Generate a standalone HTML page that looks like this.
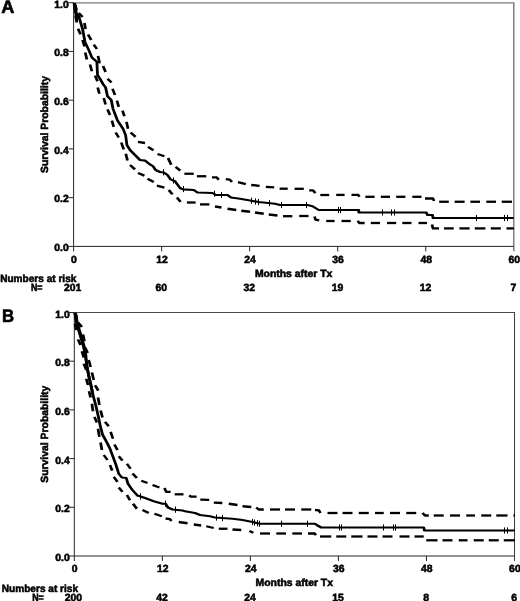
<!DOCTYPE html>
<html><head><meta charset="utf-8"><title>Survival</title>
<style>
html,body{margin:0;padding:0;background:#fff;}
body{width:520px;height:601px;overflow:hidden;}
svg{display:block;}
.t{font-family:"Liberation Sans",Arial,Helvetica,sans-serif;font-weight:bold;font-size:10.4px;fill:#000;stroke:#000;stroke-width:0.55;text-rendering:geometricPrecision;}
.L{font-family:"Liberation Sans",Arial,Helvetica,sans-serif;font-weight:bold;font-size:18.2px;fill:#000;stroke:#000;stroke-width:0.65;stroke-linejoin:round;text-rendering:geometricPrecision;}
</style></head><body>
<svg width="520" height="601" viewBox="0 0 520 601">
<rect width="520" height="601" fill="#fff"/>
<line x1="73.6" y1="2.9000000000000004" x2="514.4749999999999" y2="2.9000000000000004" stroke="#7a7a7a" stroke-width="1.35"/>
<line x1="513.8" y1="2.9000000000000004" x2="513.8" y2="251.3" stroke="#707070" stroke-width="1.35"/>
<line x1="73.6" y1="2.2" x2="73.6" y2="251.4" stroke="#262626" stroke-width="1"/>
<line x1="68.6" y1="246.4" x2="513.8" y2="246.4" stroke="#262626" stroke-width="1"/>
<line x1="68.6" y1="2.70" x2="73.6" y2="2.70" stroke="#262626" stroke-width="1"/>
<text x="68.70" y="7.60" text-anchor="end" class="t">1.0</text>
<line x1="68.6" y1="51.44" x2="73.6" y2="51.44" stroke="#262626" stroke-width="1"/>
<text x="68.70" y="56.14" text-anchor="end" class="t">0.8</text>
<line x1="68.6" y1="100.18" x2="73.6" y2="100.18" stroke="#262626" stroke-width="1"/>
<text x="68.70" y="104.88" text-anchor="end" class="t">0.6</text>
<line x1="68.6" y1="148.92" x2="73.6" y2="148.92" stroke="#262626" stroke-width="1"/>
<text x="68.70" y="153.62" text-anchor="end" class="t">0.4</text>
<line x1="68.6" y1="197.66" x2="73.6" y2="197.66" stroke="#262626" stroke-width="1"/>
<text x="68.70" y="202.36" text-anchor="end" class="t">0.2</text>
<text x="68.70" y="251.10" text-anchor="end" class="t">0.0</text>
<text x="74.00" y="262.70" text-anchor="middle" class="t">0</text>
<text x="72.70" y="291.20" text-anchor="middle" class="t">201</text>
<line x1="161.64" y1="246.4" x2="161.64" y2="251.4" stroke="#262626" stroke-width="1"/>
<text x="162.04" y="262.70" text-anchor="middle" class="t">12</text>
<text x="161.34" y="291.20" text-anchor="middle" class="t">60</text>
<line x1="249.67999999999998" y1="246.4" x2="249.67999999999998" y2="251.4" stroke="#262626" stroke-width="1"/>
<text x="250.08" y="262.70" text-anchor="middle" class="t">24</text>
<text x="249.38" y="291.20" text-anchor="middle" class="t">32</text>
<line x1="337.72" y1="246.4" x2="337.72" y2="251.4" stroke="#262626" stroke-width="1"/>
<text x="338.12" y="262.70" text-anchor="middle" class="t">36</text>
<text x="337.42" y="291.20" text-anchor="middle" class="t">19</text>
<line x1="425.76" y1="246.4" x2="425.76" y2="251.4" stroke="#262626" stroke-width="1"/>
<text x="426.16" y="262.70" text-anchor="middle" class="t">48</text>
<text x="425.46" y="291.20" text-anchor="middle" class="t">12</text>
<text x="514.20" y="262.70" text-anchor="middle" class="t">60</text>
<text x="513.50" y="291.20" text-anchor="middle" class="t">7</text>
<text x="293.60" y="276.70" text-anchor="middle" class="t">Months after Tx</text>
<text x="0.2" y="281.90" class="t" textLength="76.2" lengthAdjust="spacingAndGlyphs">Numbers at risk</text>
<text x="30.9" y="291.20" class="t" textLength="11.6" lengthAdjust="spacingAndGlyphs">N=</text>
<text transform="translate(48.3,124.55) rotate(-90)" text-anchor="middle" class="t">Survival Probability</text>
<text transform="translate(1.3,12.90) scale(1.0,1)" class="L">A</text>
<g fill="none" stroke="#000" stroke-width="2.3" stroke-linejoin="round" transform="scale(1.18,1)"><polyline points="63.81,5 64.92,10"/><polyline points="66.74,13 69.92,17"/><polyline points="71.53,23 72.54,29"/><polyline points="74.58,34.4 77.33,40"/><polyline points="79.45,44.7 82.12,49"/><polyline points="83.05,56 84.24,62"/><polyline points="87.29,66 89.49,72"/><polyline points="91.10,78.75 94.49,82.5"/><polyline points="95.34,88.75 97.46,95"/><polyline points="99.07,100.6 100.64,106.9"/><polyline points="103.81,110.6 105.42,116.25"/><polyline points="107.20,121.9 108.47,128.75"/><polyline points="110.68,132.5 114.92,136.9"/><polyline points="116.95,141.9 122.88,143"/><polyline points="125.42,146.9 130.08,150.3"/><polyline points="133.47,154 139.32,156.25"/><polyline points="142.37,158 145.13,164.7"/><polyline points="148.81,166.9 152.80,170.6"/><polyline points="156.27,173.75 164.19,173.75"/><polyline points="166.86,176.25 174.79,176.25"/><polyline points="179.66,177.3 183.47,177.3 185.42,179.8"/><polyline points="191.36,179.2 194.58,179.6 196.61,182"/><polyline points="201.69,182.2 208.31,184.2"/><polyline points="212.88,185 220.00,185.8"/><polyline points="225.25,186.8 232.37,187.3"/><polyline points="236.95,188.7 243.81,188.7"/><polyline points="249.66,188.8 257.46,188.8"/><polyline points="262.03,190.3 265.25,190.3 267.29,193.2"/><polyline points="271.44,195 278.98,195"/><polyline points="284.92,194.9 292.03,194.9"/><polyline points="297.88,194.9 303.64,194.9 304.58,196.8"/><polyline points="309.66,196.8 317.46,196.8"/><polyline points="322.71,196.8 330.51,196.8"/><polyline points="335.76,196.8 343.56,196.8"/><polyline points="349.41,196.8 357.20,196.8"/><polyline points="360.17,198.5 366.95,198.5 367.80,201"/><polyline points="372.20,201.75 380.34,201.75"/><polyline points="385.25,201.75 393.73,201.75"/><polyline points="398.64,201.75 406.78,201.75"/><polyline points="412.12,201.75 420.34,201.75"/><polyline points="425.17,201.75 433.90,201.75"/></g>
<g fill="none" stroke="#000" stroke-width="2.3" stroke-linejoin="round" transform="scale(1.18,1)"><polyline points="64.07,16 65.17,22.5"/><polyline points="66.10,28.75 68.31,34.4"/><polyline points="69.92,40 71.69,46.5"/><polyline points="72.20,52.5 73.64,59.4"/><polyline points="76.27,64.4 77.88,71.25"/><polyline points="80.51,75.6 82.63,81.25"/><polyline points="82.80,87.5 84.24,93.75"/><polyline points="87.92,98 89.49,104.4"/><polyline points="91.10,109.4 93.22,115"/><polyline points="94.83,120.6 96.40,126.9"/><polyline points="97.97,132.5 100.64,137.5"/><polyline points="102.75,142.5 104.87,149.4"/><polyline points="106.61,153.75 108.05,160.6"/><polyline points="110.17,165 114.41,169.4"/><polyline points="116.95,173 122.37,175.6"/><polyline points="125.00,178.75 130.30,181.9"/><polyline points="132.97,185.6 139.32,187.7"/><polyline points="143.01,190 146.19,194.4"/><polyline points="149.92,197.5 153.05,201.9"/><polyline points="158.39,202.5 165.76,202.5"/><polyline points="169.49,204.4 177.46,204.4"/><polyline points="182.20,206.5 187.71,207.5"/><polyline points="192.80,208.75 200.21,210"/><polyline points="204.45,210.75 211.86,211.75"/><polyline points="216.10,212.5 223.52,213.75"/><polyline points="227.75,214.5 235.17,215.5"/><polyline points="239.83,216.2 247.71,216.2"/><polyline points="253.56,216 261.44,216"/><polyline points="266.61,216.5 267.29,219.6 270.51,220.4"/><polyline points="276.44,221 283.56,221"/><polyline points="289.41,221 297.29,221"/><polyline points="303.14,220.8 304.41,223 308.98,223"/><polyline points="314.24,223 322.03,223"/><polyline points="327.97,223 335.76,223"/><polyline points="340.93,223 348.73,223"/><polyline points="354.66,223 361.86,223"/><polyline points="366.10,224.5 366.95,228.4 372.03,228.4"/><polyline points="376.27,228.4 384.49,228.4"/><polyline points="389.32,228.4 397.97,228.4"/><polyline points="402.37,228.4 411.36,228.4"/><polyline points="415.93,228.4 424.41,228.4"/><polyline points="429.24,228.4 435.38,228.4"/></g>
<polyline fill="none" stroke="#000" stroke-width="2.15" stroke-linejoin="round" transform="scale(1.3,1)" points="56.92,3 58.15,12.5 60.54,16 63.46,28.7 65.38,42 68.27,50 70.69,57.5 74.54,61.9 75.00,75 76.92,78.75 79.23,84 81.23,87.5 82.69,96.25 85.58,100 86.92,108.75 90.38,120.5 94.62,128.75 96.62,135 97.62,145 100.00,150 105.38,157 107.69,160 111.54,160.6 115.38,164.4 117.69,166.25 119.69,170 123.08,172 125.96,172.5 128.85,175 131.23,179.4 134.62,181.25 138.46,188 140.77,189.4 149.04,190 151.92,192.5 163.46,193 166.15,195 175.00,195 177.69,197.5 184.62,198.75 192.31,200.5 199.04,202 211.54,203.75 215.38,205 236.54,205 240.38,206.25 245.19,210 275.96,210 275.96,212.5 327.88,212.5 328.85,215 332.69,215 333.08,218 395.19,218"/>
<g stroke="#000" stroke-width="1"><line x1="163.50" y1="169.20" x2="163.50" y2="175.40"/><line x1="173.50" y1="177.40" x2="173.50" y2="183.60"/><line x1="183.50" y1="185.90" x2="183.50" y2="192.10"/><line x1="214.50" y1="190.60" x2="214.50" y2="196.80"/><line x1="221.50" y1="191.90" x2="221.50" y2="198.10"/><line x1="251.50" y1="197.60" x2="251.50" y2="203.80"/><line x1="255.50" y1="198.40" x2="255.50" y2="204.60"/><line x1="258.50" y1="198.90" x2="258.50" y2="205.10"/><line x1="269.50" y1="200.10" x2="269.50" y2="206.30"/><line x1="281.50" y1="201.90" x2="281.50" y2="208.10"/><line x1="306.50" y1="201.90" x2="306.50" y2="208.10"/><line x1="338.50" y1="206.90" x2="338.50" y2="213.10"/><line x1="340.50" y1="206.90" x2="340.50" y2="213.10"/><line x1="382.50" y1="209.40" x2="382.50" y2="215.60"/><line x1="391.50" y1="209.40" x2="391.50" y2="215.60"/><line x1="394.50" y1="209.40" x2="394.50" y2="215.60"/><line x1="476.50" y1="214.90" x2="476.50" y2="221.10"/><line x1="504.50" y1="214.90" x2="504.50" y2="221.10"/><line x1="507.50" y1="214.90" x2="507.50" y2="221.10"/></g>
<line x1="96.5" y1="62.1" x2="100.6" y2="62.4" stroke="#000" stroke-width="2"/>
<polyline fill="none" stroke="#000" stroke-width="3.2" stroke-linejoin="round" stroke-linecap="round" points="74.8,4.5 76,12.5 76.6,20"/>
<line x1="74.3" y1="312.5" x2="515.0" y2="312.5" stroke="#4a4a4a" stroke-width="1.0"/>
<line x1="514.5" y1="312.5" x2="514.5" y2="560.9" stroke="#3a3a3a" stroke-width="1.0"/>
<line x1="74.3" y1="312.0" x2="74.3" y2="561.0" stroke="#262626" stroke-width="1"/>
<line x1="69.3" y1="556.0" x2="514.5" y2="556.0" stroke="#262626" stroke-width="1"/>
<line x1="69.3" y1="312.50" x2="74.3" y2="312.50" stroke="#262626" stroke-width="1"/>
<text x="69.80" y="317.80" text-anchor="end" class="t">1.0</text>
<line x1="69.3" y1="361.20" x2="74.3" y2="361.20" stroke="#262626" stroke-width="1"/>
<text x="69.80" y="366.30" text-anchor="end" class="t">0.8</text>
<line x1="69.3" y1="409.90" x2="74.3" y2="409.90" stroke="#262626" stroke-width="1"/>
<text x="69.80" y="415.00" text-anchor="end" class="t">0.6</text>
<line x1="69.3" y1="458.60" x2="74.3" y2="458.60" stroke="#262626" stroke-width="1"/>
<text x="69.80" y="463.70" text-anchor="end" class="t">0.4</text>
<line x1="69.3" y1="507.30" x2="74.3" y2="507.30" stroke="#262626" stroke-width="1"/>
<text x="69.80" y="512.40" text-anchor="end" class="t">0.2</text>
<text x="69.80" y="561.10" text-anchor="end" class="t">0.0</text>
<text x="74.70" y="572.30" text-anchor="middle" class="t">0</text>
<text x="73.40" y="600.80" text-anchor="middle" class="t">200</text>
<line x1="162.33999999999997" y1="556.0" x2="162.33999999999997" y2="561.0" stroke="#262626" stroke-width="1"/>
<text x="162.74" y="572.30" text-anchor="middle" class="t">12</text>
<text x="162.04" y="600.80" text-anchor="middle" class="t">42</text>
<line x1="250.38" y1="556.0" x2="250.38" y2="561.0" stroke="#262626" stroke-width="1"/>
<text x="250.78" y="572.30" text-anchor="middle" class="t">24</text>
<text x="250.08" y="600.80" text-anchor="middle" class="t">24</text>
<line x1="338.42" y1="556.0" x2="338.42" y2="561.0" stroke="#262626" stroke-width="1"/>
<text x="338.82" y="572.30" text-anchor="middle" class="t">36</text>
<text x="338.12" y="600.80" text-anchor="middle" class="t">15</text>
<line x1="426.46" y1="556.0" x2="426.46" y2="561.0" stroke="#262626" stroke-width="1"/>
<text x="426.86" y="572.30" text-anchor="middle" class="t">48</text>
<text x="426.16" y="600.80" text-anchor="middle" class="t">8</text>
<text x="514.90" y="572.30" text-anchor="middle" class="t">60</text>
<text x="514.20" y="600.80" text-anchor="middle" class="t">6</text>
<text x="294.30" y="586.30" text-anchor="middle" class="t">Months after Tx</text>
<text x="1.8" y="591.50" class="t" textLength="76.2" lengthAdjust="spacingAndGlyphs">Numbers at risk</text>
<text x="32.2" y="600.80" class="t" textLength="11.6" lengthAdjust="spacingAndGlyphs">N=</text>
<text transform="translate(48.3,434.25) rotate(-90)" text-anchor="middle" class="t">Survival Probability</text>
<text transform="translate(1.95,321.90) scale(0.92,1)" class="L">B</text>
<g fill="none" stroke="#000" stroke-width="2.3" stroke-linejoin="round" transform="scale(1.18,1)"><polyline points="63.98,314 65.25,319"/><polyline points="66.10,322.5 69.41,327"/><polyline points="70.34,334.4 71.53,341.25"/><polyline points="72.03,347.5 74.32,353"/><polyline points="75.21,360 76.78,366.9"/><polyline points="77.88,372.5 79.45,380"/><polyline points="80.51,385.3 83.31,390.6"/><polyline points="83.05,397.5 84.24,405"/><polyline points="85.25,410.6 86.86,417.5"/><polyline points="88.98,421.9 92.16,426.25"/><polyline points="93.73,431.9 95.76,438.75"/><polyline points="96.95,444.4 99.58,450"/><polyline points="100.64,456.25 103.81,460.6"/><polyline points="107.54,463.75 110.68,468.75"/><polyline points="112.29,473.5 116.02,478"/><polyline points="119.70,480.8 125.00,483"/><polyline points="129.24,485 135.08,487.5"/><polyline points="139.32,488 140.89,491.9 144.58,491.9"/><polyline points="148.05,494.3 155.51,494.3"/><polyline points="160.34,495.4 161.69,496.6 166.61,496.6"/><polyline points="169.75,499.7 177.29,499.9"/><polyline points="181.19,502.6 188.39,503"/><polyline points="193.86,503.75 201.27,505"/><polyline points="205.51,506.25 212.92,507"/><polyline points="217.16,507.5 219.28,509.5 223.52,509.5"/><polyline points="228.81,509.5 237.29,509.5"/><polyline points="241.53,509.5 250.00,509.5"/><polyline points="255.30,509.5 263.77,509.5"/><polyline points="266.95,509.8 270.34,510.5 271.61,513"/><polyline points="277.54,513 286.02,513"/><polyline points="290.25,513 298.73,513"/><polyline points="304.03,513 312.50,513"/><polyline points="317.80,513 325.21,513"/><polyline points="330.51,513 338.98,513"/><polyline points="344.28,513 352.75,513"/><polyline points="358.05,513 360.17,515.5 363.35,515.5"/><polyline points="367.58,515.5 376.06,515.5"/><polyline points="381.36,515.5 389.83,515.5"/><polyline points="395.13,515.5 402.54,515.5"/><polyline points="407.84,515.5 416.31,515.5"/><polyline points="420.55,515.5 430.08,515.5"/><polyline points="435.17,515.5 436.44,515.5"/></g>
<g fill="none" stroke="#000" stroke-width="2.3" stroke-linejoin="round" transform="scale(1.18,1)"><polyline points="63.56,323.75 64.62,330"/><polyline points="66.10,339.4 68.31,345"/><polyline points="69.41,351.25 70.97,357.5"/><polyline points="70.97,363.75 73.09,370"/><polyline points="73.09,378.75 74.58,385"/><polyline points="75.42,391.25 76.78,397.5"/><polyline points="77.88,403.75 78.81,411.25"/><polyline points="80.00,416.9 82.12,422.5"/><polyline points="83.05,428.75 84.24,436.9"/><polyline points="85.25,442.5 86.36,450"/><polyline points="87.92,455 91.10,460"/><polyline points="93.22,465 95.08,470.6"/><polyline points="96.40,476.9 99.58,481.9"/><polyline points="100.64,487.5 103.81,491.9"/><polyline points="107.54,495 110.17,500.3"/><polyline points="112.71,503.75 116.02,508.75"/><polyline points="120.76,510 126.06,513"/><polyline points="130.85,513.75 137.20,516.25"/><polyline points="140.34,518.5 144.07,519.2 145.34,521"/><polyline points="151.48,522 158.90,523.25"/><polyline points="164.19,524.5 170.55,525.5"/><polyline points="174.79,526.25 181.14,528"/><polyline points="185.38,528.75 192.80,528.75"/><polyline points="197.03,529.5 204.45,530"/><polyline points="211.36,531 214.66,532.7"/><polyline points="220.34,533.5 228.81,533.5"/><polyline points="234.15,533.5 242.37,533.5"/><polyline points="247.71,533.5 255.93,533.5"/><polyline points="261.02,533.5 266.78,533.5 267.63,535.2"/><polyline points="271.19,536.5 280.72,536.5"/><polyline points="284.96,536.5 293.43,536.5"/><polyline points="297.67,536.5 307.20,536.5"/><polyline points="311.44,536.5 319.92,536.5"/><polyline points="324.15,536.5 332.63,536.5"/><polyline points="338.56,536.5 347.03,536.5"/><polyline points="351.27,536.5 359.11,536.5"/><polyline points="361.23,540.3 370.76,540.3"/><polyline points="375.00,540.3 383.47,540.3"/><polyline points="388.77,540.3 396.19,540.3"/><polyline points="401.48,540.3 409.96,540.3"/><polyline points="414.19,540.3 422.67,540.3"/><polyline points="426.91,540.3 436.44,540.3"/></g>
<polyline fill="none" stroke="#000" stroke-width="2.15" stroke-linejoin="round" transform="scale(1.3,1)" points="57.31,313 58.15,316 58.65,321.25 60.58,330 63.00,340 64.42,346.25 65.85,356.25 66.85,366.25 68.31,376 70.00,385.5 71.54,395 73.69,405.5 75.54,416 77.08,425.6 78.85,434.5 82.23,442.5 84.62,448.75 86.69,456 88.92,463.75 91.35,473.75 93.77,477.5 97.12,478 98.46,483.75 101.54,489.5 105.77,495.6 111.54,498 118.27,501.25 125.00,503.75 127.38,503.75 129.23,507.5 132.69,509.5 140.38,510.5 142.31,511.25 150.00,513 153.85,515 161.54,516.25 165.38,517.5 178.85,518.75 186.54,520 194.23,522 200.00,523.75 242.31,523.75 244.23,525.5 247.12,527.5 325.96,527.5 326.54,530.5 396.15,530.5"/>
<g stroke="#000" stroke-width="1"><line x1="140.50" y1="493.40" x2="140.50" y2="499.60"/><line x1="165.50" y1="500.60" x2="165.50" y2="506.80"/><line x1="175.50" y1="506.60" x2="175.50" y2="512.80"/><line x1="216.50" y1="514.40" x2="216.50" y2="520.60"/><line x1="222.50" y1="514.90" x2="222.50" y2="521.10"/><line x1="252.50" y1="518.90" x2="252.50" y2="525.10"/><line x1="254.50" y1="519.50" x2="254.50" y2="525.70"/><line x1="257.50" y1="520.10" x2="257.50" y2="526.30"/><line x1="259.50" y1="520.65" x2="259.50" y2="526.85"/><line x1="281.50" y1="520.65" x2="281.50" y2="526.85"/><line x1="307.50" y1="520.65" x2="307.50" y2="526.85"/><line x1="339.50" y1="524.40" x2="339.50" y2="530.60"/><line x1="341.50" y1="524.40" x2="341.50" y2="530.60"/><line x1="383.50" y1="524.40" x2="383.50" y2="530.60"/><line x1="393.50" y1="524.40" x2="393.50" y2="530.60"/><line x1="395.50" y1="524.40" x2="395.50" y2="530.60"/><line x1="504.50" y1="527.40" x2="504.50" y2="533.60"/><line x1="507.50" y1="527.40" x2="507.50" y2="533.60"/></g>
<polyline fill="none" stroke="#000" stroke-width="3.4" stroke-linejoin="round" stroke-linecap="round" points="75.6,314.5 76.6,321 79,330 82,340 84,347 85.7,356"/>
<polyline fill="none" stroke="#000" stroke-width="2.8" stroke-linejoin="round" points="85.7,356 86.9,366.25 88.8,376 91,385.5 93,395"/>
</svg>
</body></html>
